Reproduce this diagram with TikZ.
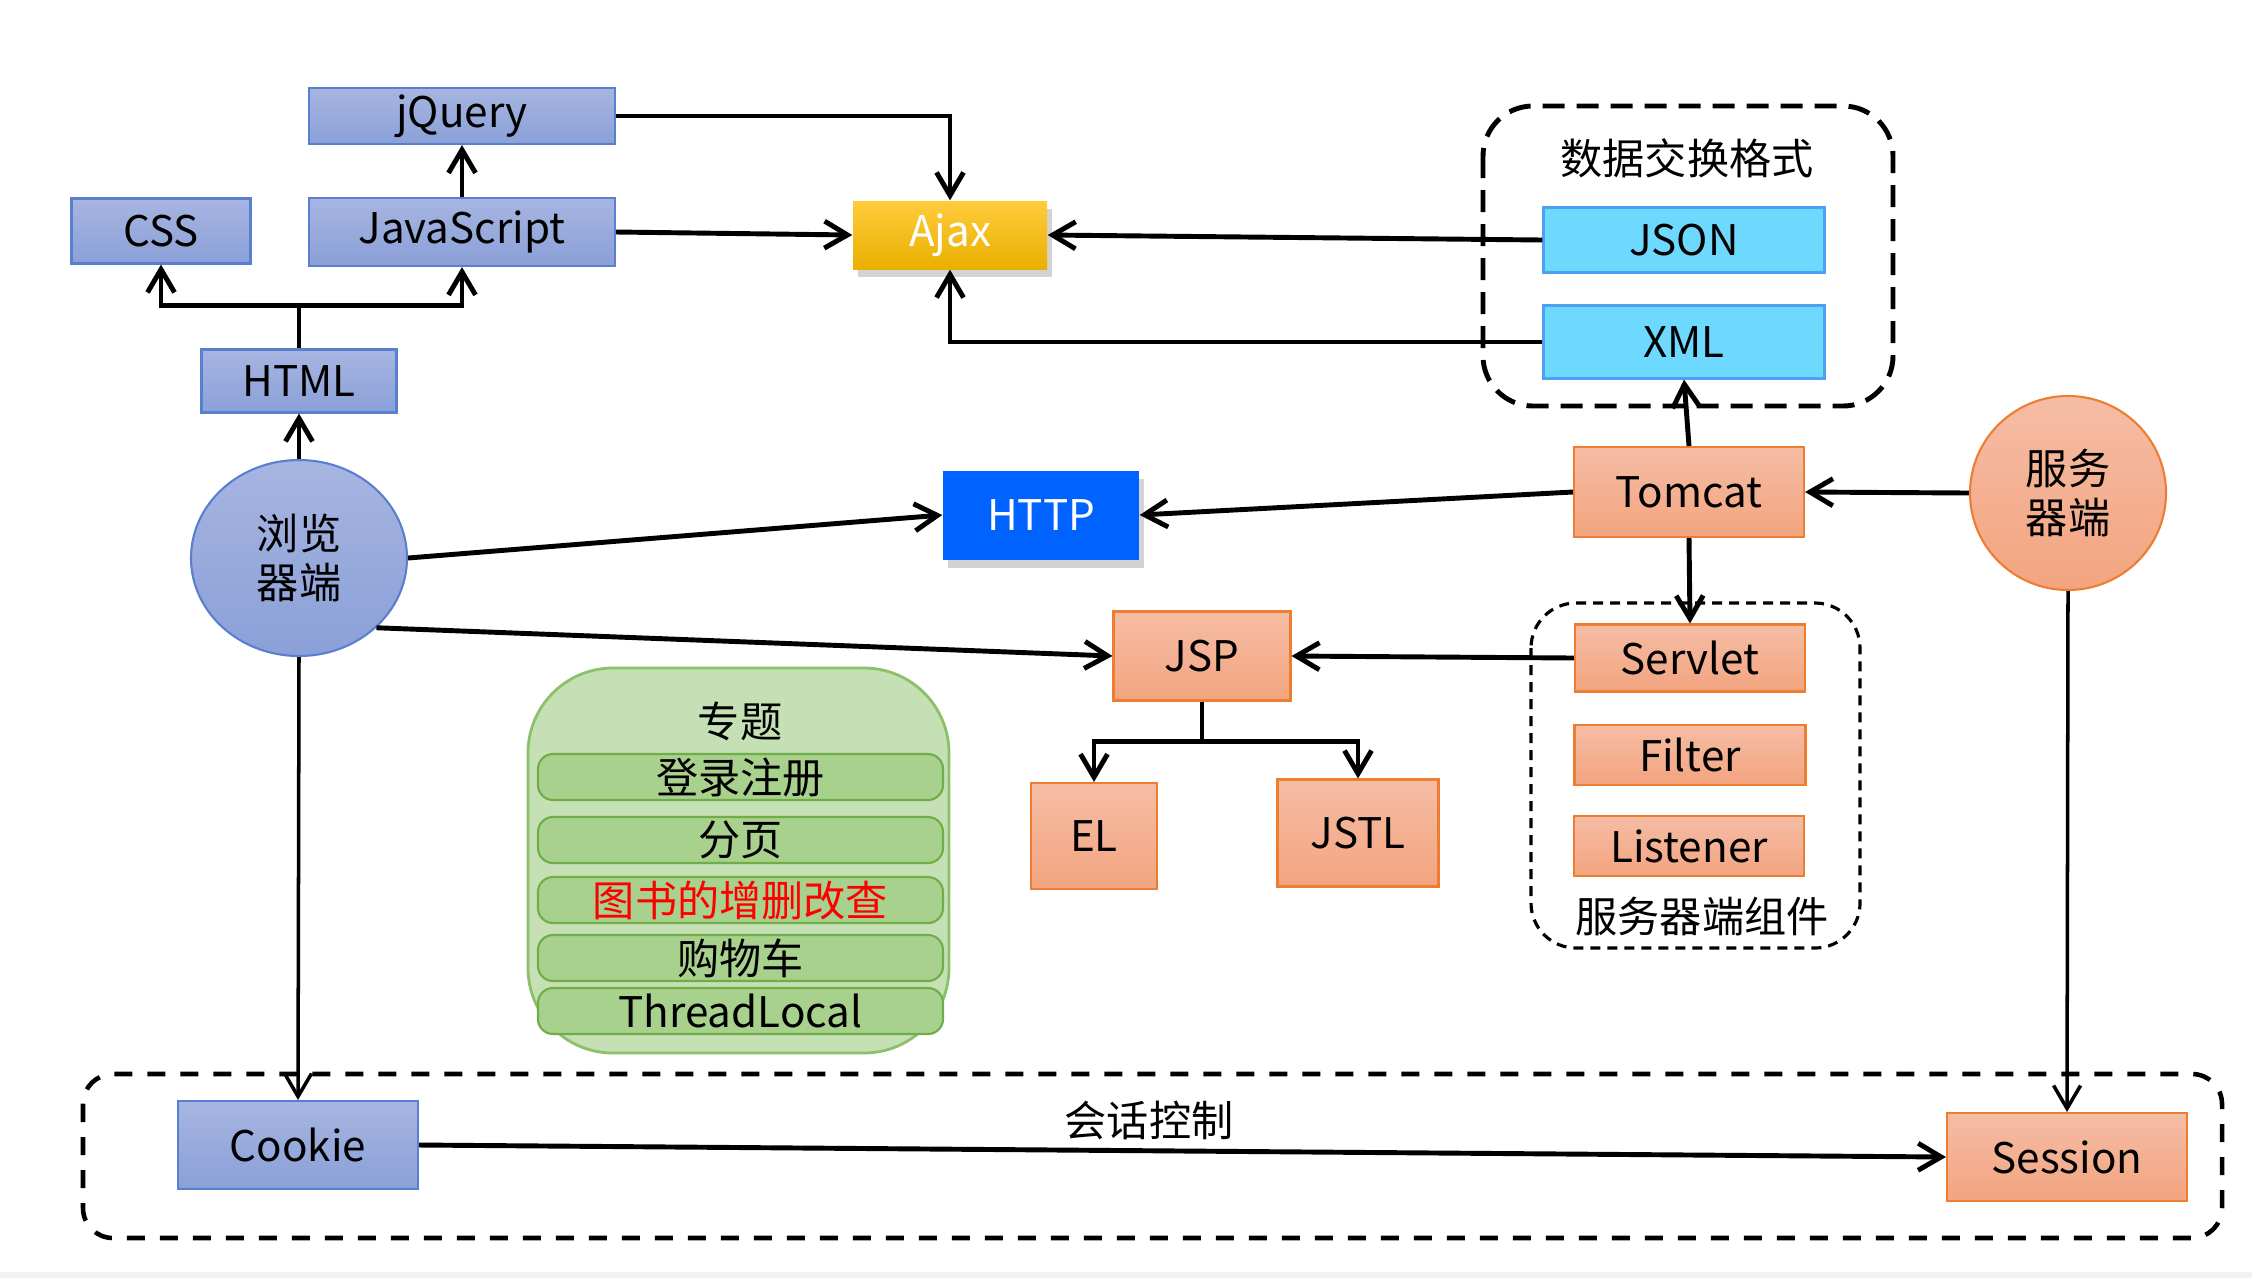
\documentclass[tikz,border=0pt]{standalone}
\usepackage{fontspec}
\setmainfont{Noto Sans CJK SC}
\usepackage{xcolor}
\usepackage{tikz}
\usetikzlibrary{shapes.geometric, positioning, arrows.meta, calc, shadows}

\definecolor{blueTop}{HTML}{A7B5E1}
\definecolor{blueBot}{HTML}{8AA0D8}
\definecolor{blueLine}{HTML}{5B7FCF}
\definecolor{orgTop}{HTML}{F5BDA5}
\definecolor{orgBot}{HTML}{F3A47F}
\definecolor{orgLine}{HTML}{ED7D31}
\definecolor{cyanFill}{HTML}{6DD9FF}
\definecolor{cyanLine}{HTML}{4FA0F0}
\definecolor{goldTop}{HTML}{FFCB3C}
\definecolor{goldBot}{HTML}{E9B000}
\definecolor{httpBlue}{HTML}{0063FF}
\definecolor{greenBg}{HTML}{C5E0B4}
\definecolor{greenLine}{HTML}{8CC06A}
\definecolor{greenItem}{HTML}{A9D18E}
\definecolor{greenItemLine}{HTML}{70AD47}

\begin{document}
\begin{tikzpicture}[
        >={Straight Barb[length=2.3mm, width=2.7mm]}, % Arrowhead style
        font=\fontsize{12}{14}\selectfont,
        flow/.style={->, line width=1.4pt},
        thinflow/.style={->, line width=1pt},
        front/.style={rectangle, draw=blueLine, line width=0.6pt, top color=blueTop, bottom color=blueBot, inner sep=0pt},
        back/.style={rectangle, draw=orgLine, line width=0.6pt, top color=orgTop, bottom color=orgBot, inner sep=0pt},
        dataformat/.style={rectangle, draw=cyanLine, line width=0.6pt, fill=cyanFill, inner sep=0pt, minimum width=2.81cm},
        side/.style={ellipse, draw, line width=0.6pt, inner sep=0pt, align=center},
        topicitem/.style={rectangle, rounded corners=1.5mm, draw=greenItemLine, line width=0.6pt, fill=greenItem, minimum width=4.05cm, minimum height=0.46cm, inner sep=0pt},
        groupbox/.style={draw, dashed, rounded corners=5mm}
    ]

    \useasboundingbox (0,0) rectangle (22.52,-12.78);
    \fill[gray!10] (0,-12.72) rectangle (22.52,-12.78);

    % ==========================================
    % 1. GROUP FRAMES
    % ==========================================
    \draw[groupbox, line width=1.4pt, dash pattern=on 2.2mm off 1.2mm] (14.83,-1.06) rectangle (18.93,-4.06);
    \draw[groupbox, rounded corners=4.5mm, line width=0.9pt, dash pattern=on 1.0mm off 0.7mm] (15.31,-6.03) rectangle (18.60,-9.48);
    \draw[groupbox, rounded corners=3mm, line width=1.3pt, dash pattern=on 1.8mm off 1.5mm] (0.83,-10.74) rectangle (22.22,-12.38);

    \node (fmt_title)   at (16.87,-1.58) {数据交换格式};
    \node (comp_title)  at (17.02,-9.16) {服务器端组件};
    \node (sess_title)  at (11.49,-11.20) {会话控制};

    % ==========================================
    % 2. BROWSER SIDE
    % ==========================================
    \node[side, draw=blueLine, top color=blueTop, bottom color=blueBot, minimum width=2.16cm, minimum height=1.96cm] (browser) at (2.99,-5.58) {浏览\\器端};

    \node[front, minimum width=1.95cm, minimum height=0.63cm] (html)   at (2.99,-3.81) {HTML};
    \node[front, minimum width=1.79cm, minimum height=0.65cm] (css)    at (1.61,-2.31) {CSS};
    \node[front, minimum width=3.06cm, minimum height=0.68cm] (js)     at (4.62,-2.32) {JavaScript};
    \node[front, minimum width=3.06cm, minimum height=0.56cm] (jquery) at (4.62,-1.16) {jQuery};

    \node[rectangle, top color=goldTop, bottom color=goldBot, text=white, minimum width=1.94cm, minimum height=0.68cm,
          drop shadow={opacity=0.35, shadow xshift=0.5mm, shadow yshift=-0.8mm}] (ajax) at (9.50,-2.35) {Ajax};
    \node[rectangle, fill=httpBlue, text=white, minimum width=1.96cm, minimum height=0.89cm,
          drop shadow={opacity=0.35, shadow xshift=0.5mm, shadow yshift=-0.8mm}] (http) at (10.41,-5.15) {HTTP};

    \node[dataformat, minimum height=0.65cm] (json) at (16.84,-2.40) {JSON};
    \node[dataformat, minimum height=0.73cm] (xml)  at (16.84,-3.42) {XML};

    % ==========================================
    % 3. SERVER SIDE
    % ==========================================
    \node[side, draw=orgLine, top color=orgTop, bottom color=orgBot, minimum width=1.96cm, minimum height=1.94cm] (server) at (20.68,-4.93) {服务\\器端};

    \node[back, minimum width=2.30cm, minimum height=0.90cm] (tomcat)   at (16.89,-4.92) {Tomcat};
    \node[back, minimum width=2.30cm, minimum height=0.67cm] (servlet)  at (16.90,-6.58) {Servlet};
    \node[back, minimum width=2.31cm, minimum height=0.60cm] (filter)   at (16.90,-7.55) {Filter};
    \node[back, minimum width=2.30cm, minimum height=0.60cm] (listener) at (16.89,-8.46) {Listener};

    \node[back, minimum width=1.77cm, minimum height=0.89cm] (jsp)  at (12.02,-6.56) {JSP};
    \node[back, minimum width=1.26cm, minimum height=1.06cm] (el)   at (10.94,-8.36) {EL};
    \node[back, minimum width=1.61cm, minimum height=1.07cm] (jstl) at (13.58,-8.33) {JSTL};

    % ==========================================
    % 4. TOPICS
    % ==========================================
    \draw[draw=greenLine, line width=0.8pt, fill=greenBg, rounded corners=8.5mm] (5.28,-6.68) rectangle (9.49,-10.53);
    \node (topic) at (7.40,-7.21) {专题};
    \node[topicitem] (login)  at (7.405,-7.77)  {登录注册};
    \node[topicitem] (paging) at (7.405,-8.40)  {分页};
    \node[topicitem, text=red] (crud) at (7.405,-9.00) {图书的增删改查};
    \node[topicitem] (cart)   at (7.405,-9.58)  {购物车};
    \node[topicitem] (tlocal) at (7.405,-10.11) {ThreadLocal};

    % ==========================================
    % 5. SESSION CONTROL
    % ==========================================
    \node[front, minimum width=2.40cm, minimum height=0.88cm] (cookie)  at (2.98,-11.45) {Cookie};
    \node[back,  minimum width=2.40cm, minimum height=0.88cm] (session) at (20.67,-11.57) {Session};

    % ==========================================
    % 6. CONNECTIONS
    % ==========================================
    \coordinate (hsplit) at ($(html.north)+(0,0.43)$);
    \draw[line width=1.4pt] (html.north) -- (hsplit);
    \draw[flow] (hsplit) -| (css.south);
    \draw[flow] (hsplit) -| (js.south);
    \draw[flow] (browser.north) -- (html.south);
    \draw[flow] (js.north) -- (jquery.south);

    \draw[flow] (jquery.east) -| (ajax.north);
    \draw[flow] (js.east) -- (ajax.west);
    \draw[flow] (json.west) -- (ajax.east);
    \draw[flow] (xml.west) -| (ajax.south);

    \draw[flow] (tomcat.north) -- (xml.south);
    \draw[flow] (tomcat.west) -- (http.east);
    \draw[flow] (server.west) -- (tomcat.east);
    \draw[flow] (tomcat.south) -- (servlet.north);
    \draw[flow] (servlet.west) -- (jsp.east);

    \draw[flow] (browser.east) -- (http.west);
    \draw[flow] (browser.-42) -- (jsp.west);

    \coordinate (jsplit) at ($(jsp.south)+(0,-0.40)$);
    \draw[line width=1.4pt] (jsp.south) -- (jsplit);
    \draw[flow] (jsplit) -| (el.north);
    \draw[flow] (jsplit) -| (jstl.north);

    \draw[thinflow] (browser.south) -- (cookie.north);
    \draw[thinflow] (server.south) -- (session.north);
    \draw[flow] (cookie.east) -- (session.west);

\end{tikzpicture}
\end{document}
